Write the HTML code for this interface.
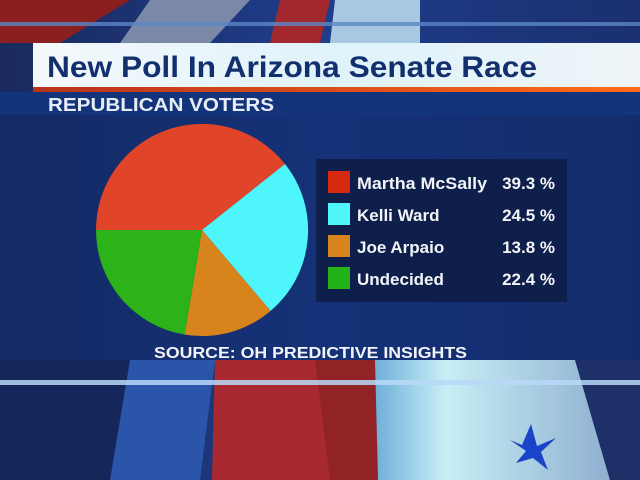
<!DOCTYPE html>
<html><head><meta charset="utf-8"><style>
html,body{margin:0;padding:0;width:640px;height:480px;overflow:hidden;background:#0d2566}
svg{display:block}
text{font-family:"Liberation Sans",sans-serif;font-weight:bold}
</style></head><body>
<svg width="640" height="480" viewBox="0 0 640 480">
<defs>
<linearGradient id="bg" x1="0" y1="0" x2="1" y2="0">
<stop offset="0" stop-color="#1a2a5e"/><stop offset="0.5" stop-color="#1e3d8a"/><stop offset="1" stop-color="#1a3070"/>
</linearGradient>
<linearGradient id="tb" x1="0" y1="0" x2="1" y2="0">
<stop offset="0" stop-color="#f4f8fb"/><stop offset="0.5" stop-color="#dff3fa"/><stop offset="1" stop-color="#eef4f8"/>
</linearGradient>
<linearGradient id="ol" x1="0" y1="0" x2="1" y2="0">
<stop offset="0" stop-color="#b8331a"/><stop offset="1" stop-color="#ff6a1a"/>
</linearGradient>
<linearGradient id="wh" x1="0" y1="0" x2="1" y2="0">
<stop offset="0" stop-color="#6fb0d8"/><stop offset="0.3" stop-color="#c8eef6"/><stop offset="1" stop-color="#8fb0d0"/>
</linearGradient>
</defs>
<rect width="640" height="480" fill="url(#bg)"/>
<polygon points="0,0 130,0 60,43 0,43" fill="#8a1f1f"/>
<polygon points="150,0 250,0 210,43 120,43" fill="#7c88a8"/>
<polygon points="280,0 330,0 320,43 270,43" fill="#a3282e"/>
<polygon points="335,0 420,0 420,43 330,43" fill="#a8c8e0"/>
<rect x="0" y="22" width="640" height="4" fill="#5b86c6" opacity="0.8"/>
<polygon points="0,360 200,360 150,480 0,480" fill="#15265a"/>
<polygon points="130,360 215,360 200,480 110,480" fill="#2a55a8"/>
<polygon points="215,360 375,360 378,480 212,480" fill="#a82a30"/>
<polygon points="315,360 375,360 378,480 330,480" fill="#7a1c1c" opacity="0.5"/>
<polygon points="375,360 575,360 610,480 378,480" fill="url(#wh)"/>
<polygon points="575,360 640,360 640,480 610,480" fill="#1d3068"/>
<rect x="0" y="380" width="640" height="5" fill="#b8d8f8" opacity="0.85"/>
<polygon points="522,445 531,424 537,446 556,438 541,452 548,470 533,458 516,463 526,451 510,440" fill="#1a44c8"/>
<rect x="33" y="43" width="607" height="46" fill="url(#tb)"/>
<rect x="33" y="87" width="607" height="5" fill="url(#ol)"/>
<text x="47" y="77" font-size="30" fill="#13306e" textLength="490" lengthAdjust="spacingAndGlyphs">New Poll In Arizona Senate Race</text>
<rect x="0" y="92" width="640" height="23" fill="#13347a"/>
<text x="48" y="111" font-size="18" fill="#e8eef8" textLength="226" lengthAdjust="spacingAndGlyphs">REPUBLICAN VOTERS</text>
<rect x="0" y="115" width="640" height="245" fill="#0f2a6a" opacity="0.55"/>
<path d="M202,230 L96,230 A106,106 0 0 1 285,164 Z" fill="#e0452a"/>
<path d="M202,230 L285,164 A106,106 0 0 1 270.6,310.9 Z" fill="#4ef5fb"/>
<path d="M202,230 L270.6,310.9 A106,106 0 0 1 184.7,334.6 Z" fill="#d8841c"/>
<path d="M202,230 L184.7,334.6 A106,106 0 0 1 96,230 Z" fill="#2db31a"/>
<rect x="316" y="159" width="251" height="143" fill="#0d1f4a"/>
<rect x="328" y="171" width="22" height="22" fill="#d52a10"/>
<rect x="328" y="203" width="22" height="22" fill="#4ef5fb"/>
<rect x="328" y="235" width="22" height="22" fill="#d8841c"/>
<rect x="328" y="267" width="22" height="22" fill="#22b31a"/>
<g font-size="17" fill="#f2f4f8">
<text x="357" y="189" textLength="130" lengthAdjust="spacingAndGlyphs">Martha McSally</text>
<text x="357" y="221">Kelli Ward</text>
<text x="357" y="253">Joe Arpaio</text>
<text x="357" y="285">Undecided</text>
<g text-anchor="end">
<text x="555" y="189">39.3 %</text>
<text x="555" y="221">24.5 %</text>
<text x="555" y="253">13.8 %</text>
<text x="555" y="285">22.4 %</text>
</g></g>
<text x="154" y="358" font-size="16" fill="#f2f4f8" textLength="313" lengthAdjust="spacingAndGlyphs">SOURCE: OH PREDICTIVE INSIGHTS</text>
</svg>
</body></html>
